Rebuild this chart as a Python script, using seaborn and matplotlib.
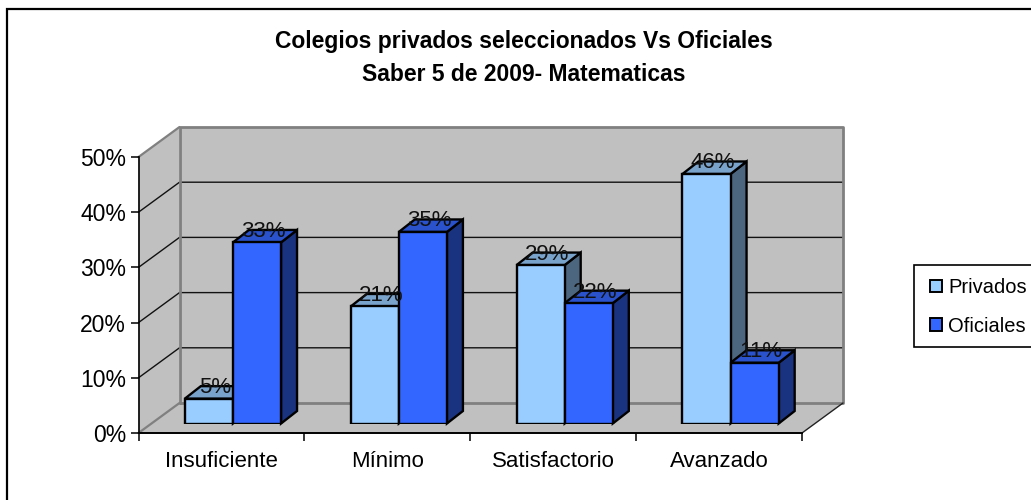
import pandas as pd
import matplotlib.pyplot as plt
import seaborn as sns
from matplotlib.patches import Patch, Polygon, Rectangle

# Data
niveles = ['Insuficiente', 'Mínimo', 'Satisfactorio', 'Avanzado']
privados = [4.5, 21.2, 28.7, 45.2]
oficiales = [32.8, 34.7, 21.8, 11.0]
rotulos_privados = ['5%', '21%', '29%', '46%']
rotulos_oficiales = ['33%', '35%', '22%', '11%']
marcas_y = [0, 10, 20, 30, 40, 50]
titulo = 'Colegios privados seleccionados Vs Oficiales\nSaber 5 de 2009- Matematicas'

df = pd.DataFrame({
    'Nivel': niveles * 2,
    'Colegio': ['Privados'] * 4 + ['Oficiales'] * 4,
    'Valor': privados + oficiales,
})

W, H = 1031, 500
CLARO, AZUL = '#99CCFF', '#3366FF'
GRIS = '#C0C0C0'
# profundidad de la pared y de las barras, en pixeles
PARED_DX, PARED_DY = 41, 30
BARRA_X0, BARRA_Y0 = 11.5, 9.5
BARRA_DX, BARRA_DY = 16, 12.5

sns.set_theme(style='white', rc={'axes.edgecolor': 'black', 'axes.linewidth': 1.2})
plt.rcParams['font.family'] = ['Liberation Sans', 'DejaVu Sans']
fig = plt.figure(figsize=(W / 100, H / 100), dpi=100)


def caja(x0, y0, ancho, alto):
    # caja en pixeles con origen arriba a la izquierda
    return [x0 / W, 1 - (y0 + alto) / H, ancho / W, alto / H]


# Fondo en pixeles: marco, paredes y suelo
fondo = fig.add_axes([0, 0, 1, 1], zorder=0)
fondo.set_xlim(0, W)
fondo.set_ylim(H, 0)
fondo.axis('off')
x0, x1, y50, y0 = 138.5, 802, 157, 433
xp0, xp1 = x0 + PARED_DX, x1 + PARED_DX
fondo.plot([7, 7, W], [H, 9, 9], color='black', lw=1.6, solid_joinstyle='miter')
fondo.add_patch(Polygon([(xp0, y50 - PARED_DY), (xp1, y50 - PARED_DY), (xp1, y0 - PARED_DY), (xp0, y0 - PARED_DY)],
                        fc=GRIS, ec='none'))
fondo.add_patch(Polygon([(x0, y50), (xp0, y50 - PARED_DY), (xp0, y0 - PARED_DY), (x0, y0)], fc=GRIS, ec='none'))
fondo.add_patch(Polygon([(x0, y0), (x1, y0), (xp1, y0 - PARED_DY), (xp0, y0 - PARED_DY)], fc=GRIS, ec='none'))
for m in marcas_y[1:-1]:
    yy = y0 - (y0 - y50) * m / 50
    fondo.plot([x0, xp0, xp1], [yy, yy - PARED_DY, yy - PARED_DY], color='#111111', lw=1.0)
fondo.plot([xp0, xp1, xp1, xp0, xp0], [y0 - PARED_DY, y0 - PARED_DY, y50 - PARED_DY, y50 - PARED_DY, y0 - PARED_DY],
           color='#808080', lw=2.0)
fondo.plot([x0, xp0], [y50, y50 - PARED_DY], color='#808080', lw=1.6)
fondo.plot([x0, xp0], [y0, y0 - PARED_DY], color='#808080', lw=1.6)
fondo.plot([x1, xp1], [y0, y0 - PARED_DY], color='#222222', lw=1.0)

# Plano frontal: ejes y marcas
ax = fig.add_axes(caja(x0, y50, x1 - x0, y0 - y50), zorder=1)
ax.patch.set_alpha(0)
ax.set_xlim(-0.5, 3.5)
ax.set_ylim(0, 50)
ax.set_xticks([-0.5, 0.5, 1.5, 2.5, 3.5])
ax.set_xticklabels([])
ax.set_yticks(marcas_y)
ax.set_yticklabels([f'{m}%' for m in marcas_y], fontsize=16.5, color='black')
ax.set_xticks(range(4), minor=True)
ax.set_xticklabels(niveles, minor=True, fontsize=16, color='black')
ax.tick_params(axis='x', which='major', bottom=True, length=6, width=1.1, color='black')
ax.tick_params(axis='x', which='minor', bottom=False, pad=9)
ax.tick_params(axis='y', left=True, length=6, width=1.1, color='black', pad=3)
sns.despine(ax=ax, top=True, right=True)
ax.spines['bottom'].set_linewidth(1.4)

# Barras: mismo plano desplazado hacia el fondo
bx = fig.add_axes(caja(x0 + BARRA_X0, y50 - BARRA_Y0, x1 - x0, y0 - y50), zorder=2)
bx.patch.set_alpha(0)
sns.barplot(data=df, x='Nivel', y='Valor', hue='Colegio', order=niveles,
            hue_order=['Privados', 'Oficiales'], palette=[CLARO, AZUL],
            width=0.58, gap=0, saturation=1, edgecolor='black', linewidth=1.7,
            errorbar=None, legend=False, ax=bx)
bx.set_xlim(-0.5, 3.5)
bx.set_ylim(0, 50)
bx.axis('off')

px_x = (x1 - x0) / 4
px_y = (y0 - y50) / 50
dx, dy = BARRA_DX / px_x, BARRA_DY / px_y
barras = sorted(bx.patches, key=lambda b: b.get_x())
rotulos = [r for par in zip(rotulos_privados, rotulos_oficiales) for r in par]
for b, rot in zip(barras, rotulos):
    xa, xb, alto = b.get_x(), b.get_x() + b.get_width(), b.get_height()
    claro = b.get_x() + b.get_width() / 2 < round(b.get_x() + b.get_width())
    oscuro = '#4D6680' if claro else '#1A3380'
    tapa = '#7AA3CC' if claro else '#2952CC'
    lado = Polygon([(xb, 0), (xb + dx, dy), (xb + dx, alto + dy), (xb, alto)], fc=oscuro, ec='black', lw=1.7,
                   clip_on=False, zorder=b.get_zorder() - 0.1 + xa * 0.01)
    arriba = Polygon([(xa, alto), (xa + dx, alto + dy), (xb + dx, alto + dy), (xb, alto)], fc=tapa, ec='black', lw=1.7,
                     clip_on=False, zorder=b.get_zorder() - 0.1 + xa * 0.01)
    bx.add_patch(lado)
    bx.add_patch(arriba)
    b.set_zorder(b.get_zorder() + xa * 0.01)
    bx.text(xa + 0.185, alto + 0.1, rot, ha='center', va='bottom', fontsize=16, color='#111111', zorder=10, clip_on=False)

# Titulo
fig.text(524 / W, 1 - 58 / H, titulo, ha='center', va='center', fontsize=16.5, fontweight='bold', color='black',
         linespacing=1.6)

# Leyenda
marco = Rectangle((914, 265), 150, 82, fc='white', ec='black', lw=1.2)
fondo.add_patch(marco)
fondo.set_clip_on(False)
leg = fondo.legend(handles=[Patch(fc=CLARO, ec='black', lw=1.4, label='Privados'),
                            Patch(fc=AZUL, ec='black', lw=1.4, label='Oficiales')],
                   loc='center left', bbox_to_anchor=(920 / W, 1 - 307 / H), frameon=False, fontsize=14.5,
                   handlelength=0.6, handleheight=0.6, handletextpad=0.3, labelspacing=0.98,
                   borderpad=0, labelcolor='black')

fig.savefig('out.png', dpi=100)
